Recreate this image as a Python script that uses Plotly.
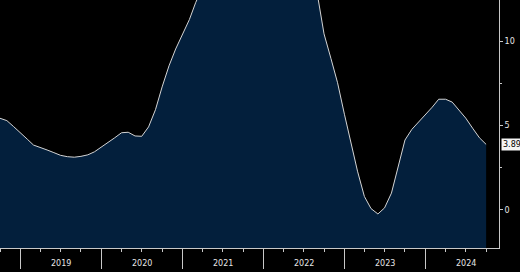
import plotly.graph_objects as go
import pandas as pd

# Monthly data, Oct 2018 .. Oct 2024
dates = pd.date_range("2018-10-01", "2024-10-01", freq="MS")
values = [
    5.44, 5.30, 4.95,                                   # Oct-Dec 2018
    4.55, 4.20, 3.85, 3.72, 3.56, 3.40, 3.24, 3.16, 3.13, 3.18, 3.27, 3.45,  # 2019
    3.72, 4.03, 4.28, 4.58, 4.61, 4.39, 4.37, 4.93, 5.95, 7.30, 8.55, 9.55,  # 2020
    10.40, 11.30, 12.30, 13.30, 14.20, 15.00, 15.60, 16.00, 16.20, 16.30, 16.30, 16.20,  # 2021
    16.10, 16.00, 15.80, 15.60, 15.20, 14.60, 13.90, 13.30, 12.80, 10.45, 9.00, 7.55,    # 2022
    5.68, 3.90, 2.30, 0.80, 0.08, -0.24, 0.12, 1.00, 2.55, 4.15, 4.78, 5.20,            # 2023
    5.65, 6.10, 6.57, 6.57, 6.40, 5.95, 5.45, 4.85, 4.28, 3.89,                          # 2024
]
years = ["2019", "2020", "2021", "2022", "2023", "2024"]
y_ticks = [0, 5, 10]
last_label = "3.89"

y_min, y_max = -2.26, 12.46

fig = go.Figure()
fig.add_trace(go.Scatter(x=list(dates), y=[y_min] * len(dates), mode="lines",
                         line=dict(width=0), hoverinfo="skip", showlegend=False))
fig.add_trace(go.Scatter(x=list(dates), y=values, mode="lines", fill="tonexty",
                         fillcolor="#031f3c", line=dict(color="#d4d4d4", width=1),
                         showlegend=False))

for yr in years:
    fig.add_annotation(x=f"{yr}-07-02", y=0, xref="x", yref="paper", yanchor="top",
                       yshift=-9, text=yr, showarrow=False,
                       font=dict(family="DejaVu Sans", size=8, color="#e6e6e6"))

fig.add_annotation(x=1, y=values[-1], xref="paper", yref="y", xanchor="left",
                   xshift=2, text=last_label, showarrow=False, bgcolor="#f4f4f4",
                   borderpad=1, font=dict(family="DejaVu Sans", size=8, color="#000000"))

fig.update_layout(
    width=520, height=272,
    margin=dict(l=0, r=21, t=0, b=24),
    paper_bgcolor="#000000", plot_bgcolor="#000000",
    xaxis=dict(
        type="date", range=["2018-10-01", "2024-11-28"],
        showgrid=False, zeroline=False, showline=True, linecolor="#c8c8c8", linewidth=1,
        ticks="outside", tickcolor="#c8c8c8", ticklen=20, tickwidth=1,
        tick0="2019-01-01", dtick="M12", showticklabels=False,
        minor=dict(ticks="outside", dtick="M3", tick0="2019-01-01", ticklen=3,
                   tickcolor="#c8c8c8", showgrid=False),
    ),
    yaxis=dict(
        side="right", range=[y_min, y_max], showgrid=False, zeroline=False,
        showline=True, linecolor="#c8c8c8", linewidth=1,
        ticks="outside", tickcolor="#c8c8c8", ticklen=3,
        tickvals=y_ticks, ticktext=[str(v) for v in y_ticks],
        tickfont=dict(family="DejaVu Sans", size=8, color="#e6e6e6"),
        minor=dict(ticks="outside", tickvals=[-2.5, 2.5, 7.5, 12.5], ticklen=2,
                   tickcolor="#c8c8c8", showgrid=False),
    ),
)

fig.write_html("out.html")
